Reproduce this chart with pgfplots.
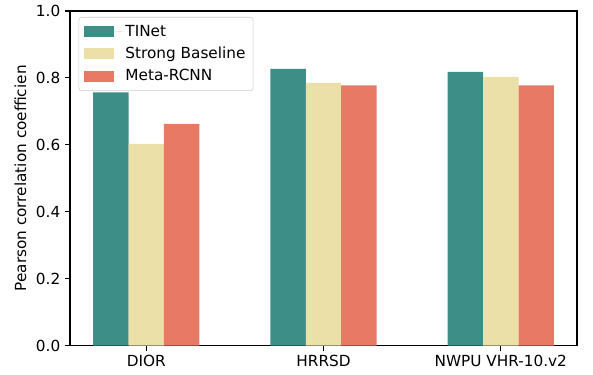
\documentclass[border=0pt]{standalone}
\usepackage{fontspec}
\setmainfont{DejaVu Sans}
\usepackage{pgfplots}
\pgfplotsset{compat=1.18}
\definecolor{cA}{RGB}{61,142,134}
\definecolor{cB}{RGB}{236,224,169}
\definecolor{cC}{RGB}{232,121,101}
\begin{document}
\begin{tikzpicture}
\begin{axis}[
  width=365pt, height=241pt, scale only axis,
  xmin=-0.43, xmax=2.43, ymin=0, ymax=1.0,
  xtick={0,1,2}, xticklabels={DIOR,HRRSD,NWPU VHR-10.v2},
  ytick={0,0.2,0.4,0.6,0.8,1.0},
  yticklabel style={/pgf/number format/.cd,fixed,fixed zerofill,precision=1},
  /pgf/number format/assume math mode=true,
  tick align=outside, major tick length=3.5pt,
  tick style={black, line width=0.8pt},
  axis line style={line width=0.8pt},
  xtick pos=bottom, ytick pos=left,
  ylabel={Pearson correlation coefficien},
  ylabel style={font=\fontsize{11}{13}\selectfont},
  ticklabel style={font=\fontsize{11}{13}\selectfont},
  ybar, bar width=0.2,
  legend style={at={(0.017,0.982)}, anchor=north west, draw=black!20, rounded corners=2pt,
     font=\fontsize{11}{13}\selectfont, row sep=2.4pt, inner sep=3.5pt},
  legend cell align=left,
  legend image code/.code={\fill[#1, sharp corners] (0pt,-4pt) rectangle (22pt,4pt); \path (0pt,0pt) -- (28pt,0pt);},
]
\addplot[fill=cA, draw=none, bar shift=-0.2] coordinates {(0,0.757) (1,0.827) (2,0.818)};
\addplot[fill=cB, draw=none, bar shift=0] coordinates {(0,0.603) (1,0.785) (2,0.803)};
\addplot[fill=cC, draw=none, bar shift=0.2] coordinates {(0,0.663) (1,0.778) (2,0.778)};
\legend{TINet,Strong Baseline,Meta-RCNN}
\end{axis}
\pgfresetboundingbox
\path ([shift={(-50.4pt,-20.9pt)}]current axis.south west) rectangle ([shift={(11.5pt,7.9pt)}]current axis.north east);
\end{tikzpicture}
\end{document}
